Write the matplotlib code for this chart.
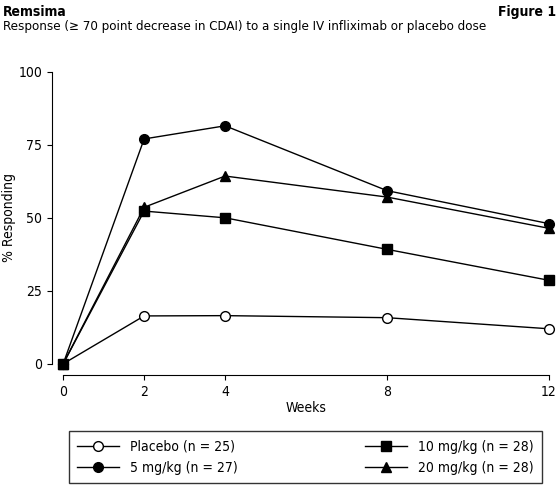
import matplotlib.pyplot as plt

plt.rcParams['font.family'] = ['Liberation Sans Narrow', 'DejaVu Sans']
plt.rcParams['font.stretch'] = 'condensed'

weeks = [0, 2, 4, 8, 12]
placebo = [0, 16.4, 16.5, 15.8, 12.0]
mg10 = [0, 52.3, 50.0, 39.2, 28.6]
mg5 = [0, 77.0, 81.5, 59.3, 48.0]
mg20 = [0, 53.6, 64.3, 57.1, 46.4]

fig = plt.figure(figsize=(5.59, 4.95), dpi=100)
ax = fig.add_axes([0.113, 0.265, 0.869, 0.59])

kw = dict(color='black', lw=1, ms=7, clip_on=False, zorder=3)
ax.plot(weeks, placebo, marker='o', mfc='white', label='Placebo (n = 25)', **kw)
ax.plot(weeks, mg10, marker='s', label='10 mg/kg (n = 28)', **kw)
ax.plot(weeks, mg5, marker='o', label='5 mg/kg (n = 27)', **kw)
ax.plot(weeks, mg20, marker='^', label='20 mg/kg (n = 28)', **kw)

ax.set_xlim(0, 12)
ax.set_ylim(0, 100)
ax.set_xticks(weeks)
ax.set_yticks([0, 25, 50, 75, 100])
ax.spines['top'].set_visible(False)
ax.spines['right'].set_visible(False)
ax.spines['left'].set_position(('outward', 8))
ax.spines['bottom'].set_position(('outward', 8))
ax.tick_params(labelsize=10)
ax.set_xlabel('Weeks', fontsize=10, labelpad=2)
ax.set_ylabel('% Responding', fontsize=10, labelpad=2)

handles, labels = ax.get_legend_handles_labels()
order = [0, 2, 1, 3]
fig.legend([handles[i] for i in order], [labels[i] for i in order],
           loc='lower left', bbox_to_anchor=(0.111, 0.01, 0.871, 0.125),
           mode='expand', ncol=2, fontsize=10, frameon=True, fancybox=False,
           edgecolor='black', borderpad=0.6, handlelength=3)

fig.text(0.005, 0.99, 'Remsima', fontsize=10, fontweight='bold', va='top')
fig.text(0.995, 0.99, 'Figure 1', fontsize=10, fontweight='bold', va='top', ha='right')
fig.text(0.005, 0.96, 'Response (≥ 70 point decrease in CDAI) to a single IV infliximab or placebo dose',
         fontsize=9.5, va='top')

fig.savefig('out.png', dpi=100)
